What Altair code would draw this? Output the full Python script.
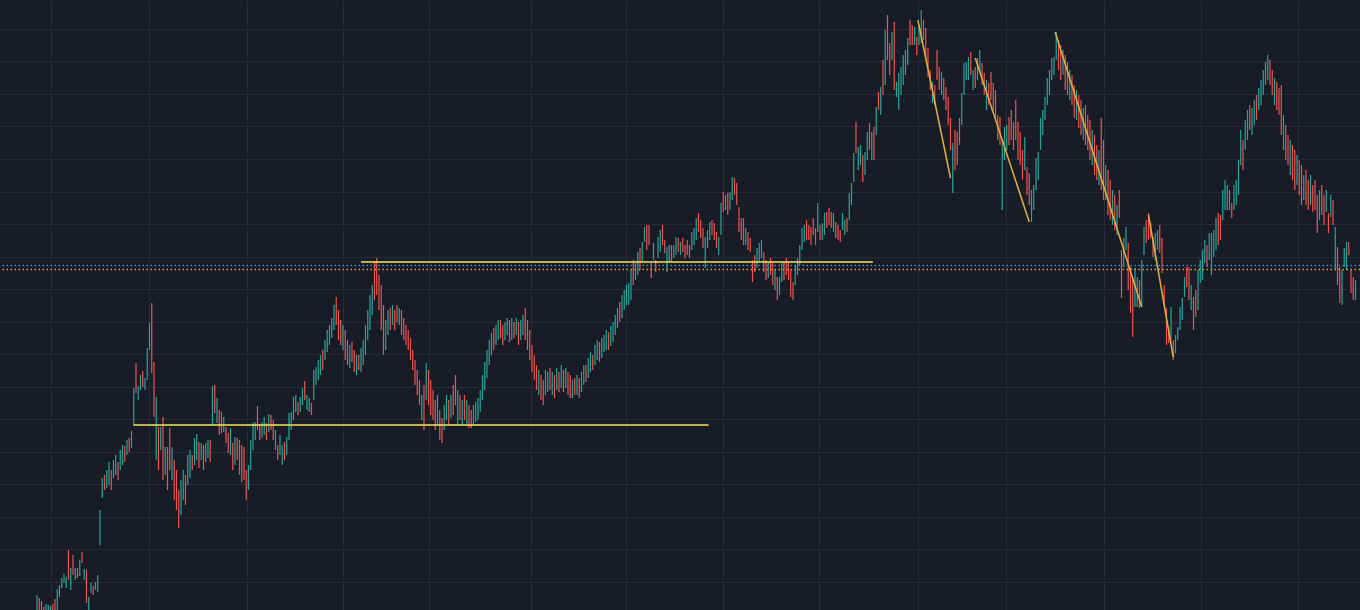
import altair as alt
import pandas as pd

# ---- bar data (price units), one value per bar ----
high = [
    15, 12, 9, 3, 6, 5, 4, 6, 11, 21,
    25, 32, 36, 33, 60, 42, 55, 42, 42, 50,
    58, 41, 40, 13, 27, 24, 28, 35, 100, 132,
    135, 140, 148, 140, 150, 155, 148, 160, 165, 164,
    170, 172, 179, 222, 247, 224, 235, 239, 232, 262,
    287, 307, 248, 213, 183, 183, 193, 163, 163, 182,
    163, 150, 140, 120, 130, 140, 135, 155, 160, 155,
    172, 176, 168, 167, 165, 167, 170, 170, 224, 225,
    212, 200, 198, 193, 183, 177, 182, 167, 173, 172,
    170, 165, 163, 140, 145, 170, 187, 188, 204, 186,
    188, 193, 187, 196, 195, 190, 180, 165, 175, 165,
    168, 173, 197, 198, 213, 215, 208, 213, 222, 229,
    215, 212, 207, 240, 243, 250, 255, 260, 270, 280,
    285, 292, 305, 313, 300, 290, 285, 280, 270, 265,
    268, 260, 255, 255, 262, 270, 285, 300, 315, 325,
    348, 352, 335, 325, 305, 290, 300, 302, 305, 300,
    305, 302, 300, 292, 285, 280, 272, 260, 250, 240,
    230, 215, 225, 247, 240, 230, 220, 210, 215, 200,
    192, 205, 215, 210, 215, 225, 235, 220, 215, 210,
    215, 210, 205, 200, 205, 208, 212, 220, 235, 248,
    260, 270, 277, 282, 285, 290, 290, 285, 288, 292,
    290, 292, 288, 292, 288, 290, 295, 302, 290, 280,
    265, 255, 245, 240, 235, 230, 240, 238, 242, 238,
    235, 242, 238, 245, 240, 242, 238, 235, 230, 232,
    235, 232, 238, 245, 245, 252, 258, 255, 265, 270,
    268, 272, 275, 280, 278, 284, 288, 295, 302, 308,
    315, 320, 325, 327, 340, 350, 347, 358, 362, 368,
    383, 385, 385, 347, 367, 350, 373, 380, 385, 370,
    363, 365, 365, 365, 373, 372, 368, 372, 365, 370,
    365, 378, 382, 392, 397, 390, 382, 373, 380, 388,
    390, 387, 378, 373, 407, 418, 415, 417, 418, 433,
    432, 427, 403, 392, 392, 382, 378, 372, 350, 355,
    362, 367, 370, 358, 350, 348, 352, 347, 340, 333,
    333, 347, 348, 352, 348, 340, 328, 345, 352, 365,
    382, 385, 390, 385, 383, 392, 382, 407, 385, 387,
    397, 398, 402, 398, 397, 388, 385, 380, 397, 390,
    392, 417, 427, 457, 488, 463, 465, 455, 458, 478,
    487, 478, 483, 503, 518, 523, 550, 580, 595, 567,
    578, 588, 528, 537, 543, 555, 560, 572, 590, 585,
    583, 573, 585, 600, 590, 582, 562, 540, 528, 525,
    560, 543, 538, 532, 523, 513, 492, 467, 480, 478,
    492, 517, 547, 548, 553, 558, 540, 543, 552, 560,
    547, 537, 530, 527, 538, 527, 520, 495, 493, 470,
    483, 485, 493, 500, 488, 510, 488, 478, 460, 473,
    443, 437, 420, 425, 452, 458, 492, 500, 513, 532,
    540, 552, 553, 578, 570, 565, 560, 555, 548, 540,
    535, 525, 520, 515, 510, 502, 505, 495, 490, 480,
    475, 465, 460, 492, 470, 445, 440, 430, 420, 415,
    405, 420, 360, 372, 383, 367, 343, 333, 342, 333,
    330, 350, 383, 390, 397, 387, 373, 377, 380, 385,
    372, 325, 302, 283, 303, 270, 275, 283, 303, 312,
    333, 343, 343, 325, 313, 320, 340, 350, 360, 370,
    365, 377, 377, 380, 392, 397, 395, 420, 430, 425,
    420, 407, 425, 430, 450, 480, 470, 490, 500, 505,
    502, 510, 515, 522, 530, 540, 548, 555, 550, 540,
    532, 528, 522, 525, 495, 485, 475, 470, 465, 460,
    455, 450, 445, 435, 440, 430, 435, 425, 430, 415,
    420, 425, 415, 420, 397, 415, 410, 383, 363, 343,
    340, 362, 368, 368, 340, 333, 330,
]

low = [
    -5, -3, -5, -8, -8, -5, -6, -5, -4, 0,
    13, 22, 27, 22, 30, 20, 35, 30, 32, 34,
    47, 30, 7, 0, 17, 15, 20, 18, 65, 112,
    120, 122, 125, 120, 132, 135, 130, 140, 145, 148,
    155, 158, 162, 184, 217, 210, 220, 223, 220, 230,
    260, 237, 193, 150, 140, 160, 130, 135, 120, 140,
    130, 110, 100, 82, 95, 110, 105, 125, 132, 140,
    145, 150, 142, 150, 140, 148, 152, 148, 185, 197,
    187, 175, 177, 178, 167, 157, 155, 140, 145, 150,
    135, 128, 130, 110, 120, 140, 160, 170, 180, 170,
    172, 175, 170, 178, 180, 170, 160, 150, 155, 145,
    150, 155, 170, 180, 190, 198, 195, 198, 205, 210,
    200, 198, 195, 210, 225, 230, 235, 240, 250, 258,
    265, 272, 280, 285, 270, 265, 260, 250, 245, 242,
    248, 238, 235, 240, 238, 245, 255, 270, 280, 295,
    310, 315, 300, 280, 255, 260, 275, 280, 285, 280,
    288, 285, 275, 270, 265, 260, 250, 240, 225, 215,
    205, 190, 180, 210, 205, 195, 190, 180, 185, 170,
    167, 180, 190, 185, 192, 195, 205, 185, 190, 185,
    190, 185, 182, 182, 185, 188, 190, 198, 210, 220,
    232, 245, 255, 260, 265, 270, 272, 265, 270, 275,
    268, 270, 272, 275, 265, 270, 275, 270, 260, 250,
    238, 230, 220, 215, 210, 205, 215, 218, 220, 215,
    212, 220, 218, 222, 218, 222, 215, 212, 212, 215,
    215, 212, 218, 225, 228, 232, 238, 240, 245, 250,
    248, 252, 258, 260, 260, 264, 268, 275, 282, 288,
    292, 300, 305, 305, 310, 325, 330, 335, 340, 348,
    368, 360, 365, 332, 350, 338, 352, 358, 365, 357,
    338, 348, 348, 352, 355, 358, 355, 358, 352, 355,
    352, 360, 365, 370, 378, 372, 362, 342, 362, 370,
    375, 370, 362, 355, 375, 398, 400, 395, 400, 410,
    415, 405, 378, 370, 365, 365, 360, 358, 328, 338,
    342, 348, 352, 338, 330, 332, 335, 325, 320, 310,
    315, 328, 330, 335, 330, 313, 310, 325, 335, 345,
    360, 368, 370, 370, 365, 375, 365, 378, 370, 370,
    375, 382, 385, 382, 378, 372, 370, 368, 380, 375,
    378, 390, 405, 428, 457, 440, 445, 428, 435, 450,
    460, 450, 450, 475, 500, 495, 515, 525, 550, 535,
    550, 520, 513, 500, 515, 525, 535, 545, 565, 565,
    565, 555, 565, 567, 570, 550, 533, 520, 507, 505,
    530, 520, 515, 510, 500, 485, 460, 417, 440, 445,
    465, 485, 515, 530, 530, 535, 520, 522, 530, 538,
    525, 515, 500, 505, 510, 500, 490, 470, 465, 400,
    450, 460, 465, 470, 460, 470, 450, 445, 430, 440,
    415, 405, 388, 400, 420, 430, 460, 475, 490, 505,
    515, 530, 535, 550, 540, 530, 535, 520, 515, 510,
    505, 492, 490, 482, 475, 470, 465, 460, 450, 445,
    435, 430, 425, 420, 410, 410, 395, 390, 385, 380,
    375, 392, 312, 343, 360, 320, 297, 273, 303, 303,
    302, 303, 355, 367, 370, 372, 353, 350, 360, 357,
    337, 303, 265, 267, 270, 250, 257, 270, 280, 290,
    313, 323, 310, 300, 280, 293, 300, 327, 330, 347,
    343, 350, 335, 353, 360, 365, 370, 390, 400, 400,
    400, 392, 400, 405, 415, 445, 440, 460, 470, 480,
    475, 485, 490, 500, 505, 515, 525, 530, 525, 515,
    505, 500, 495, 475, 460, 450, 445, 435, 430, 420,
    425, 415, 405, 410, 405, 400, 405, 398, 400, 377,
    390, 395, 385, 398, 377, 393, 385, 340, 325, 307,
    305, 343, 340, 355, 317, 310, 310,
]

# u = up bar, d = down bar
direction_rows = [
    "uddduuuddu", "uuuudududu", "duduuduuuu", "duuduuduud", "uduuduuduu",
    "uddudududd", "uddduuduud", "uududuudud", "udduddudud", "dddduuuudd",
    "uududduduu", "duuuuuduud", "uuduuuuduu", "uuuddduddu", "dduduuuuuu",
    "ddddduudud", "dudddddddd", "dududdddud", "duududdudu", "dudduuuuuu",
    "uuuduudduu", "dududuuddd", "dddudduudu", "dudududdud", "uduuduuduu",
    "duuuduuuud", "uuuuuduudu", "uddduduudd", "uuduududdd", "duuuddduuu",
    "ddduuddduu", "dddddudddd", "uuudduddud", "uuddddduuu", "uudddddudu",
    "uddduddduu", "duuuduuduu", "dududududd", "uduuuuuudd", "uduuddddud",
    "dduddddudd", "duuuududuu", "dduddddddu", "uudddddddu", "dduuuuuuuu",
    "uuuudduddu", "dduddudddu", "ddudduddud", "udduuddduu", "duudddduud",
    "dddduduuuu", "uddudduuuu", "duuuudduuu", "dduuuuduud", "uuduuuuudd",
    "uddduddudd", "uddudduddd", "uddudududd", "uuudddu",
]
direction = list("".join(direction_rows))

# grid positions (bar index for time lines, price for level lines)
time_grid = [6.2, 49.8, 93.3, 136.0, 174.2, 219.6, 261.8, 304.9, 347.6,
             391.6, 430.7, 474.2, 517.3, 560.4]
price_grid = [581, 548.5, 516, 483.5, 451, 418.5, 386, 353.5, 321, 288.5,
              256, 223.5, 191, 158.5, 126, 93.5, 61, 28.5]

# drawn horizontal levels (start bar, end bar, price)
level_start = [144, 43]
level_end = [371.5, 298.5]
level_price = [348, 185]

# dotted price lines
dotted_prices = [344.5, 340.5]

# drawn trend lines (bar, price) -> (bar, price)
trend_x1 = [391.5, 417.0, 452.5, 494]
trend_y1 = [590, 552, 578, 395]
trend_x2 = [406, 441, 491, 505]
trend_y2 = [432, 388, 303, 253]

# ---- build chart ----
n = min(len(high), len(low), len(direction))
bars = pd.DataFrame({
    "bar": list(range(n)),
    "high": high[:n],
    "low": low[:n],
    "dir": direction[:n],
})

BG = "#181c27"
GRID = "#272b37"
UP = "#26a69a"
DOWN = "#ef5350"

x_scale = alt.Scale(domain=[-16.44, 588.0], nice=False, zero=False)
y_scale = alt.Scale(domain=[0, 610], nice=False, zero=False)

x_axis = alt.Axis(values=time_grid, grid=True, gridColor=GRID, gridWidth=1,
                  labels=False, ticks=False, domain=False, title=None)
y_axis = alt.Axis(values=price_grid, grid=True, gridColor=GRID, gridWidth=1,
                  labels=False, ticks=False, domain=False, title=None)

bar_layer = alt.Chart(bars).mark_rule(strokeWidth=1.2, clip=True).encode(
    x=alt.X("bar:Q", scale=x_scale, axis=x_axis),
    y=alt.Y("low:Q", scale=y_scale, axis=y_axis),
    y2="high:Q",
    color=alt.Color("dir:N", scale=alt.Scale(domain=["u", "d"], range=[UP, DOWN]), legend=None),
)

levels = pd.DataFrame({"x1": level_start, "x2": level_end, "p": level_price})
level_layer = alt.Chart(levels).mark_rule(color="#f5e55a", strokeWidth=1.5, clip=True).encode(
    x=alt.X("x1:Q", scale=x_scale, axis=x_axis),
    x2="x2:Q",
    y=alt.Y("p:Q", scale=y_scale, axis=y_axis),
)

dot_blue = alt.Chart(pd.DataFrame({"p": [dotted_prices[0]]})).mark_rule(
    color="#2e8fd6", strokeWidth=1.3, strokeDash=[1.5, 2.5]
).encode(y=alt.Y("p:Q", scale=y_scale, axis=y_axis))

dot_orange = alt.Chart(pd.DataFrame({"p": [dotted_prices[1]]})).mark_rule(
    color="#f39c12", strokeWidth=1.3, strokeDash=[1.5, 2.5]
).encode(y=alt.Y("p:Q", scale=y_scale, axis=y_axis))

trends = pd.DataFrame({"x1": trend_x1, "y1": trend_y1, "x2": trend_x2, "y2": trend_y2})
trend_layer = alt.Chart(trends).mark_rule(color="#e2b23e", strokeWidth=1.5, clip=True).encode(
    x=alt.X("x1:Q", scale=x_scale, axis=x_axis),
    x2="x2:Q",
    y=alt.Y("y1:Q", scale=y_scale, axis=y_axis),
    y2="y2:Q",
)

chart = alt.layer(
    bar_layer, dot_blue, dot_orange, level_layer, trend_layer
).properties(
    width=1360,
    height=610,
    padding=0,
    autosize=alt.AutoSizeParams(type="none"),
    background=BG,
).configure_view(stroke=None, fill=BG)

chart.save("out.html", embed_options={"renderer": "svg", "actions": False})
